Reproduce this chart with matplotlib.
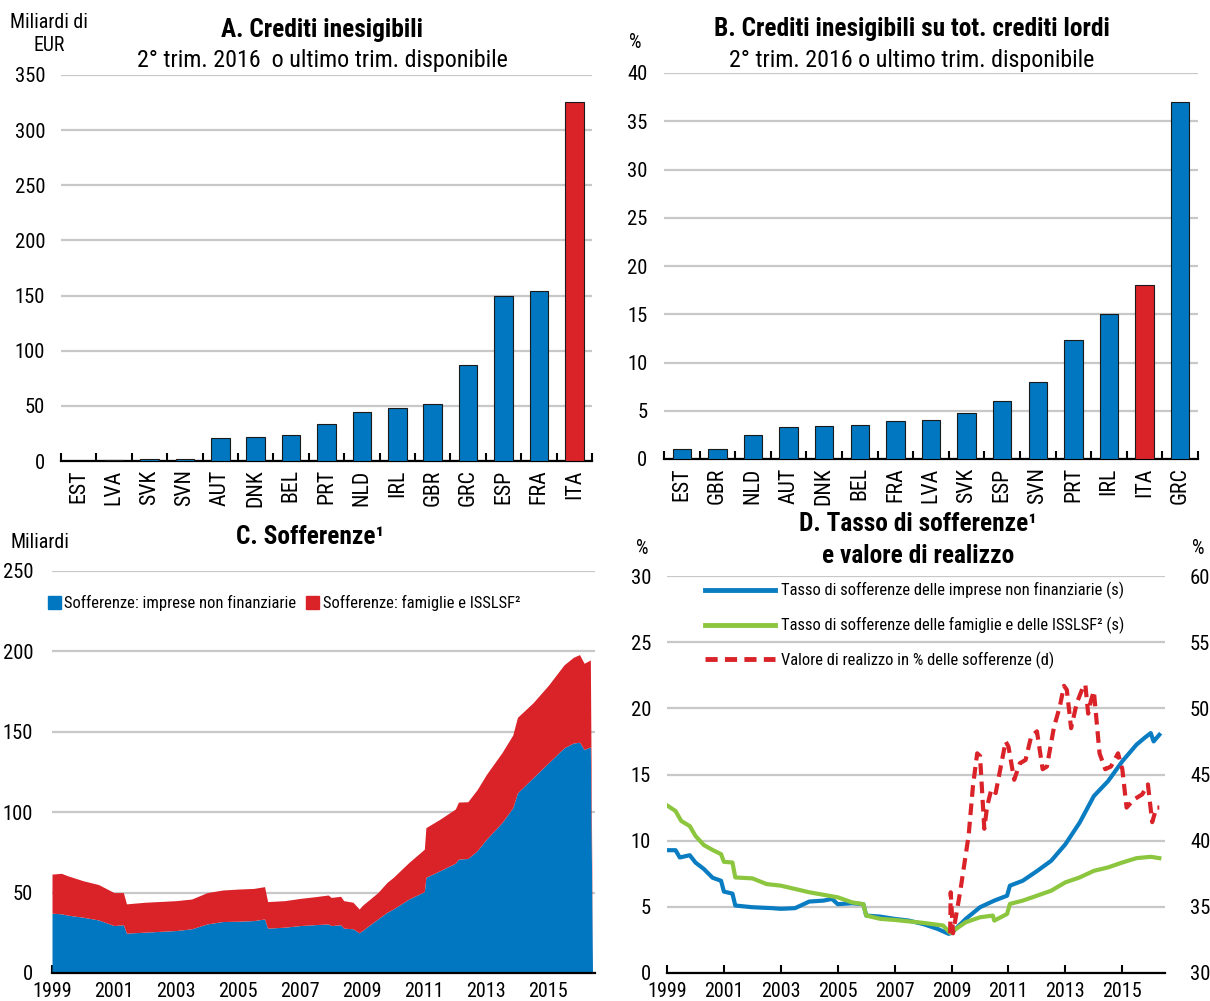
import matplotlib
matplotlib.use('Agg')
import matplotlib.pyplot as plt
from matplotlib import font_manager as fm
from matplotlib.patches import Patch
from matplotlib.lines import Line2D
import numpy as np

names = {f.name for f in fm.fontManager.ttflist}
FONT, SCALE = 'Liberation Sans', 1.0
for cand, sc in [('Liberation Sans Narrow', 1.17), ('Arial Narrow', 1.17), ('Roboto Condensed', 1.1)]:
    if cand in names:
        FONT, SCALE = cand, sc
        break
plt.rcParams['font.family'] = [FONT, 'DejaVu Sans']


def fs(v):
    return v * SCALE


# ---------------- DATA ----------------
countries_a = ['EST', 'LVA', 'SVK', 'SVN', 'AUT', 'DNK', 'BEL', 'PRT', 'NLD', 'IRL', 'GBR', 'GRC', 'ESP', 'FRA', 'ITA']
values_a = [0.2, 0.6, 1.5, 2.1, 21.0, 21.8, 23.9, 33.1, 44.8, 48.5, 51.5, 87.0, 149.5, 154.5, 325.5]

countries_b = ['EST', 'GBR', 'NLD', 'AUT', 'DNK', 'BEL', 'FRA', 'LVA', 'SVK', 'ESP', 'SVN', 'PRT', 'IRL', 'ITA', 'GRC']
values_b = [1.0, 1.0, 2.5, 3.3, 3.4, 3.5, 3.9, 4.0, 4.8, 6.0, 8.0, 12.3, 15.0, 18.0, 37.0]

dates_c = [1999.0, 1999.3, 1999.5, 2000.0, 2000.5, 2001.0, 2001.3, 2001.4, 2002.0, 2003.0,
           2003.5, 2004.0, 2004.5, 2005.0, 2005.5, 2005.85, 2005.95, 2006.5, 2007.0, 2007.5,
           2007.9, 2008.0, 2008.3, 2008.4, 2008.7, 2008.9, 2009.0, 2009.5, 2009.8, 2010.0,
           2010.5, 2011.0, 2011.05, 2011.5, 2012.0, 2012.1, 2012.4, 2012.7, 2013.0, 2013.5,
           2013.85, 2014.0, 2014.5, 2015.0, 2015.5, 2015.8, 2016.0, 2016.15, 2016.35, 2016.42]
nfc_c = [37.2, 36.8, 36.0, 34.7, 33.0, 29.5, 30.0, 24.8, 25.4, 26.4,
         27.5, 30.5, 32.0, 32.2, 32.6, 33.6, 27.9, 28.5, 29.5, 30.1,
         30.5, 29.5, 30.0, 27.9, 27.5, 25.0, 26.4, 33.6, 37.8, 39.8,
         46.0, 50.6, 59.5, 63.6, 68.3, 70.8, 71.2, 76.0, 83.2, 93.5,
         102.8, 112.0, 121.4, 130.7, 140.0, 143.0, 143.5, 139.0, 140.6, 0.0]
hh_c = [24.3, 25.2, 24.5, 22.7, 22.0, 20.5, 20.0, 18.2, 18.6, 18.6,
        18.5, 19.5, 19.6, 20.0, 20.0, 20.1, 16.5, 16.5, 16.9, 17.4,
        18.0, 17.5, 17.7, 17.1, 16.5, 14.8, 15.6, 16.4, 18.6, 19.7,
        22.7, 26.4, 30.9, 32.0, 33.7, 35.5, 35.3, 38.0, 40.3, 43.5,
        45.2, 47.0, 46.6, 48.3, 51.6, 53.3, 54.5, 53.6, 54.1, 0.0]

dates_nfc = [1999.0, 1999.3, 1999.45, 1999.8, 2000.0, 2000.3, 2000.6, 2000.9, 2001.0, 2001.3,
             2001.4, 2002.0, 2002.7, 2003.0, 2003.5, 2004.0, 2004.5, 2004.8, 2005.0, 2005.5,
             2005.9, 2006.0, 2006.5, 2007.0, 2007.5, 2008.0, 2008.5, 2008.9, 2009.0, 2009.5,
             2010.0, 2010.5, 2010.95, 2011.05, 2011.5, 2012.0, 2012.5, 2013.0, 2013.5, 2014.0,
             2014.5, 2015.0, 2015.5, 2015.8, 2016.0, 2016.1, 2016.3]
rate_nfc = [9.28, 9.28, 8.73, 8.9, 8.35, 7.85, 7.2, 6.97, 6.15, 6.0,
            5.1, 4.97, 4.9, 4.85, 4.9, 5.4, 5.47, 5.6, 5.2, 5.27,
            5.2, 4.34, 4.26, 4.09, 3.96, 3.7, 3.34, 2.96, 3.03, 4.09,
            4.97, 5.47, 5.84, 6.6, 6.97, 7.7, 8.48, 9.73, 11.36, 13.37,
            14.5, 16.0, 17.26, 17.8, 18.13, 17.5, 18.0]

dates_hh = [1999.0, 1999.3, 1999.5, 1999.8, 2000.0, 2000.3, 2000.6, 2000.9, 2001.0, 2001.3,
            2001.4, 2002.0, 2002.5, 2003.0, 2004.0, 2005.0, 2005.5, 2005.9, 2006.0, 2006.5,
            2007.0, 2008.0, 2008.7, 2008.95, 2009.5, 2010.0, 2010.45, 2010.5, 2010.95, 2011.05,
            2011.5, 2012.0, 2012.5, 2013.0, 2013.5, 2014.0, 2014.5, 2015.0, 2015.5, 2016.0, 2016.3]
rate_hh = [12.67, 12.24, 11.49, 11.1, 10.36, 9.66, 9.3, 8.98, 8.4, 8.35,
           7.22, 7.15, 6.72, 6.6, 6.1, 5.72, 5.34, 5.2, 4.34, 4.09,
           4.01, 3.79, 3.59, 3.03, 3.84, 4.21, 4.34, 3.96, 4.46, 5.22,
           5.47, 5.84, 6.22, 6.85, 7.22, 7.72, 7.98, 8.35, 8.68, 8.78, 8.68]

dates_rec = [2008.95, 2008.97, 2009.05, 2009.3, 2009.6, 2009.75, 2009.9, 2010.0, 2010.15, 2010.25,
             2010.4, 2010.55, 2010.9, 2011.0, 2011.2, 2011.4, 2011.6, 2011.8, 2012.0, 2012.2,
             2012.35, 2012.6, 2012.8, 2012.95, 2013.05, 2013.2, 2013.4, 2013.6, 2013.7, 2013.8,
             2013.9, 2014.0, 2014.2, 2014.4, 2014.6, 2014.85, 2015.0, 2015.15, 2015.4, 2015.7,
             2015.9, 2016.05, 2016.2, 2016.3]
recovery = [33.0, 36.1, 33.0, 36.1, 40.4, 44.1, 46.6, 46.4, 40.9, 42.6,
            43.9, 43.6, 47.5, 47.1, 44.6, 45.85, 46.1, 47.9, 48.26, 45.4,
            45.6, 48.6, 50.1, 51.7, 51.4, 48.5, 50.4, 51.5, 51.8, 49.6,
            50.6, 51.3, 46.6, 45.4, 45.6, 46.6, 45.4, 42.5, 43.1, 43.5,
            44.25, 41.4, 42.5, 42.5]

# ---------------- STYLE ----------------
BLUE = '#0077C0'
RED = '#DA2229'
GREEN = '#8CC63F'
GRID = '#C8C8C8'
W, H = 1210, 1001
YT = fs(13.5)     # y tick label size
XT = fs(13.2)     # x tick label size
TT = fs(15.7)     # subtitle size
BT = fs(16.6)     # bold title size
UT = fs(13)       # unit labels
LT = fs(10.8)     # legend text

fig = plt.figure(figsize=(W / 100, H / 100), dpi=100)


def ax_px(left, top, right, bottom):
    return fig.add_axes([left / W, 1 - bottom / H, (right - left) / W, (bottom - top) / H])


def ftext(x, y, s, **kw):
    kw.setdefault('va', 'center')
    kw.setdefault('ha', 'center')
    fig.text(x / W, 1 - y / H, s, **kw)


def base_style(ax, ypad):
    for s in ['left', 'right', 'top']:
        ax.spines[s].set_visible(False)
    ax.spines['bottom'].set_linewidth(1.6)
    ax.spines['bottom'].set_color('black')
    ax.yaxis.grid(True, color=GRID, lw=1.6)
    ax.set_axisbelow(True)
    ax.tick_params(axis='y', length=0, labelsize=YT, pad=ypad)


def bar_panel(ax, cats, vals, ymax, ystep, ypad):
    base_style(ax, ypad)
    x = np.arange(len(cats))
    colors = [RED if c == 'ITA' else BLUE for c in cats]
    ax.bar(x, vals, width=0.52, color=colors, edgecolor='#1a1a1a', linewidth=0.8, zorder=3)
    ax.set_xlim(-0.5, len(cats) - 0.5)
    ax.set_ylim(0, ymax)
    ax.set_yticks(np.arange(0, ymax + 0.1, ystep))
    ax.set_xticks(x)
    ax.set_xticklabels(cats, rotation=90, fontsize=fs(14.3))
    ax.tick_params(axis='x', which='major', length=0, pad=6)
    ax.set_xticks(np.arange(-0.5, len(cats)), minor=True)
    ax.tick_params(axis='x', which='minor', direction='in', length=6, width=1.5)


# Panel A
axA = ax_px(61, 75, 592, 461)
bar_panel(axA, countries_a, values_a, 350, 50, 11.5)
ftext(322, 30, 'A. Crediti inesigibili', fontsize=BT, fontweight='bold')
ftext(322, 61, '2° trim. 2016  o ultimo trim. disponibile', fontsize=TT)
ftext(49, 34, 'Miliardi di\nEUR', fontsize=UT, multialignment='center', linespacing=1.3)

# Panel B
axB = ax_px(664, 73, 1198, 459)
bar_panel(axB, countries_b, values_b, 40, 5, 12)
ftext(912, 29, 'B. Crediti inesigibili su tot. crediti lordi', fontsize=BT, fontweight='bold')
ftext(912, 60, '2° trim. 2016 o ultimo trim. disponibile', fontsize=TT)
ftext(635, 42, '%', fontsize=UT)

# Panel C
axC = ax_px(52, 571, 595, 973)
base_style(axC, 13.5)
axC.fill_between(dates_c, 0, nfc_c, color=BLUE, lw=0, zorder=2)
axC.fill_between(dates_c, nfc_c, np.array(nfc_c) + np.array(hh_c), color=RED, lw=0, zorder=2)
axC.set_xlim(1999, 2016.5)
axC.set_ylim(0, 250)
axC.set_yticks(np.arange(0, 251, 50))
axC.set_xticks(np.arange(1999, 2016, 2))
axC.tick_params(axis='x', direction='in', length=6, width=1.5, labelsize=XT, pad=6.5)
handles_c = [Patch(color=BLUE, label='Sofferenze: imprese non finanziarie'),
             Patch(color=RED, label='Sofferenze: famiglie e ISSLSF²')]
axC.legend(handles=handles_c, loc='upper left', bbox_to_anchor=(-0.008, 0.94), ncol=2,
           frameon=False, fontsize=LT, handlelength=0.8, handleheight=0.8,
           handletextpad=0.2, columnspacing=0.6, borderpad=0, borderaxespad=0)
ftext(310, 537, 'C. Sofferenze¹', fontsize=BT, fontweight='bold')
ftext(40, 543, 'Miliardi', fontsize=UT)

# Panel D
axD = ax_px(667, 576, 1165, 973)
base_style(axD, 11.5)
axD.plot(dates_nfc, rate_nfc, color='#0A7DC2', lw=3, zorder=3)
axD.plot(dates_hh, rate_hh, color=GREEN, lw=3, zorder=3)
axD.set_xlim(1999, 2016.5)
axD.set_ylim(0, 30)
axD.set_yticks(np.arange(0, 31, 5))
axD.set_xticks(np.arange(1999, 2016, 2))
axD.tick_params(axis='x', direction='in', length=6, width=1.5, labelsize=XT, pad=6.5)
axD2 = axD.twinx()
for s in ['left', 'right', 'top', 'bottom']:
    axD2.spines[s].set_visible(False)
axD2.plot(dates_rec, recovery, color=RED, lw=3, dashes=(2.8, 1.6), zorder=3)
axD2.set_ylim(30, 60)
axD2.set_yticks(np.arange(30, 61, 5))
axD2.tick_params(axis='y', length=0, labelsize=YT, pad=18)
handles_d = [Line2D([], [], color='#0A7DC2', lw=3.5, label='Tasso di sofferenze delle imprese non finanziarie (s)'),
             Line2D([], [], color=GREEN, lw=3.5, label='Tasso di sofferenze delle famiglie e delle ISSLSF² (s)'),
             Line2D([], [], color=RED, lw=3.5, dashes=(2.5, 1.5), label='Valore di realizzo in % delle sofferenze (d)')]
axD.legend(handles=handles_d, loc='upper left', bbox_to_anchor=(0.076, 0.985), frameon=False,
           fontsize=LT, handlelength=4.25, handletextpad=0.36, labelspacing=1.07,
           borderpad=0, borderaxespad=0)
ftext(918, 524, 'D. Tasso di sofferenze¹', fontsize=BT, fontweight='bold')
ftext(918, 556, 'e valore di realizzo', fontsize=BT, fontweight='bold')
ftext(642, 548, '%', fontsize=UT)
ftext(1198, 548, '%', fontsize=UT)

fig.savefig('out.png', dpi=100)
